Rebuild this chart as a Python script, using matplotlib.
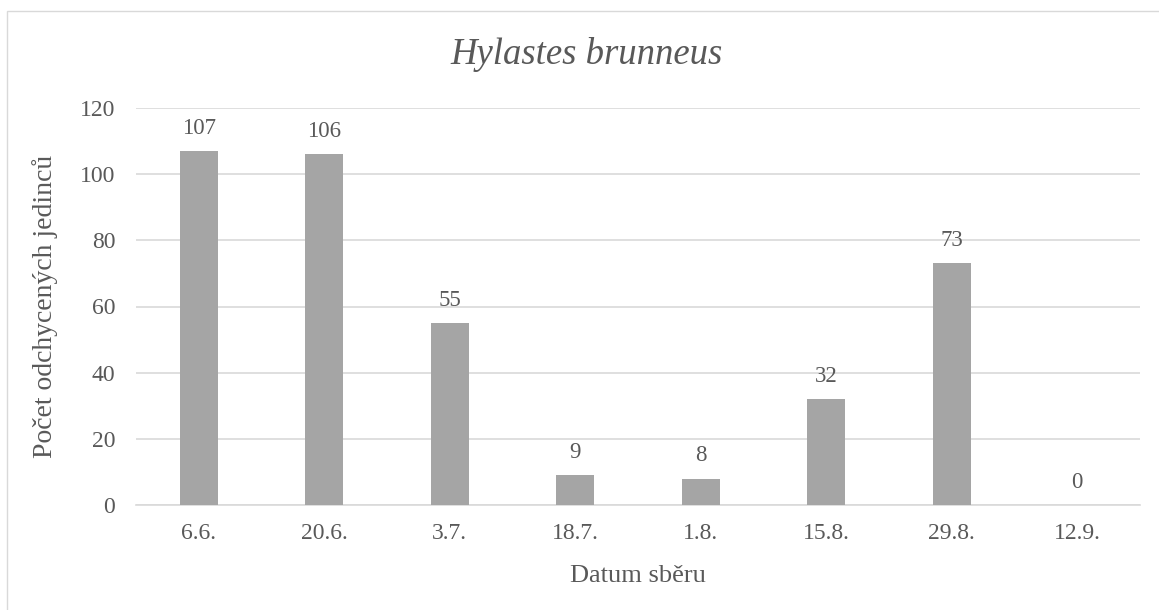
import matplotlib.pyplot as plt
from matplotlib.patches import Rectangle

dates = ['6.6.', '20.6.', '3.7.', '18.7.', '1.8.', '15.8.', '29.8.', '12.9.']
counts = [107, 106, 55, 9, 8, 32, 73, 0]

txt = '#595959'
plt.rcParams['font.family'] = ['Liberation Serif', 'DejaVu Serif']

fig = plt.figure(figsize=(11.59, 6.10), dpi=100)
ax = fig.add_axes([136/1159, 1 - 505/610, (1140 - 136)/1159, (505 - 108)/610])

# frame around the whole chart
fig.patches.append(Rectangle((7/1159, -0.01), 1.0, 1 - 11/610 + 0.01, transform=fig.transFigure,
                             fill=False, edgecolor='#D9D9D9', linewidth=1))

x = range(len(dates))
ax.bar(x, counts, width=0.3, color='#A5A5A5', zorder=3)
for xi, v in zip(x, counts):
    ax.annotate(str(v), (xi, v), xytext=(0, 9), textcoords='offset points',
                ha='center', va='bottom', fontsize=16.5, color=txt)

ax.set_xlim(-0.5, len(dates) - 0.5)
ax.set_ylim(0, 120)
ax.set_yticks(range(0, 121, 20))
ax.set_xticks(list(x))
ax.set_xticklabels(dates)
ax.tick_params(axis='both', length=0, labelsize=17, labelcolor=txt)
ax.tick_params(axis='y', pad=15)
ax.tick_params(axis='x', pad=13)
ax.grid(axis='y', color='#D9D9D9', linewidth=1.2, zorder=0)
for s in ['top', 'right', 'left']:
    ax.spines[s].set_visible(False)
ax.spines['bottom'].set_color('#D9D9D9')
ax.spines['bottom'].set_linewidth(1.2)

fig.text(587/1159, 1 - 55/610, 'Hylastes brunneus', fontsize=26.5, style='italic',
         color=txt, ha='center', va='center')
ax.set_xlabel('Datum sběru', fontsize=19, color=txt, labelpad=15)
ax.set_ylabel('Počet odchycených jedinců', fontsize=20, color=txt, labelpad=16)

fig.savefig('out.png', dpi=100)
